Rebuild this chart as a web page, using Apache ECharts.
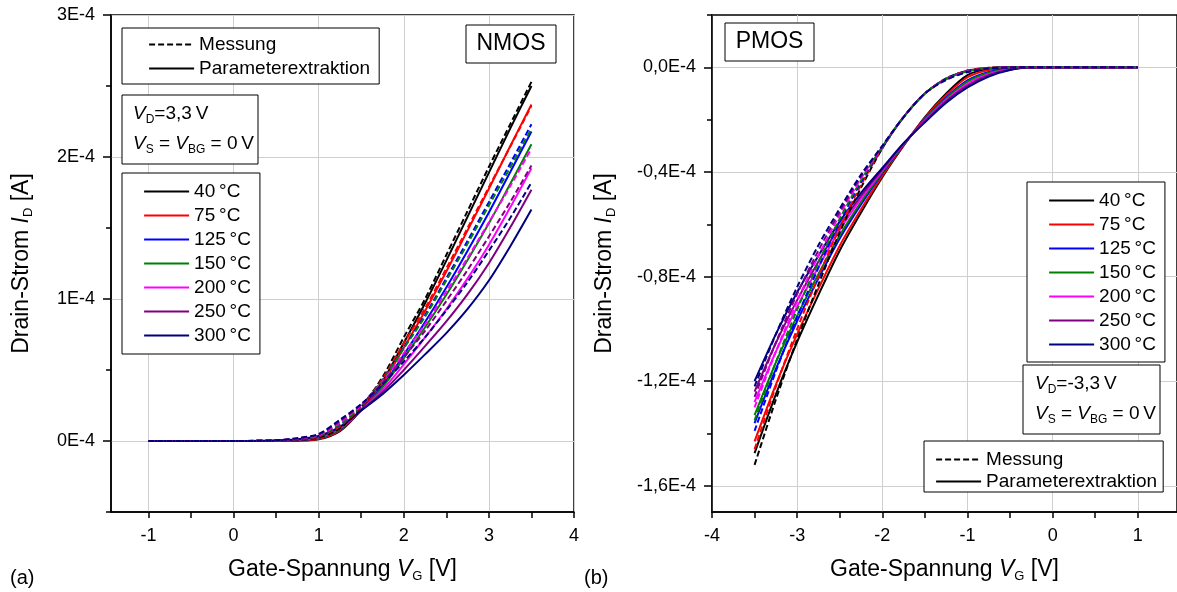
<!DOCTYPE html>
<html>
<head>
<meta charset="utf-8">
<script src="https://cdn.jsdelivr.net/npm/echarts@6/dist/echarts.min.js"></script>
<style>
  html, body { margin: 0; padding: 0; background: #fff; }
  #chart { width: 1177px; height: 592px; }
</style>
</head>
<body>
<div id="chart"></div>
<script>
// currents are given in units of 1E-4 A (axis labels carry the "E-4")
const temps = ['40\u2009°C', '75\u2009°C', '125\u2009°C', '150\u2009°C', '200\u2009°C', '250\u2009°C', '300\u2009°C'];
const tempColors = ['#000000', '#ff0000', '#0000ff', '#008000', '#ff00ff', '#800080', '#000080'];

// NMOS, V_D = 3,3 V
const nmosVg = [-1, -0.5, 0, 0.5, 0.75, 1.0, 1.25, 1.5, 1.75, 2.0, 2.25, 2.5, 2.75, 3.0, 3.25, 3.5];
const nmosModel = [
  [0, 0, 0, 0, 0.002, 0.012, 0.07, 0.22, 0.42, 0.69, 0.97, 1.27, 1.58, 1.89, 2.20, 2.50],
  [0, 0, 0, 0.001, 0.004, 0.015, 0.075, 0.219, 0.406, 0.656, 0.916, 1.194, 1.483, 1.776, 2.076, 2.37],
  [0, 0, 0, 0.001, 0.006, 0.021, 0.081, 0.218, 0.387, 0.607, 0.837, 1.081, 1.34, 1.609, 1.893, 2.18],
  [0, 0, 0, 0.001, 0.007, 0.023, 0.084, 0.218, 0.378, 0.584, 0.801, 1.03, 1.275, 1.533, 1.81, 2.09],
  [0, 0, 0, 0.002, 0.009, 0.027, 0.09, 0.217, 0.36, 0.539, 0.729, 0.928, 1.145, 1.381, 1.644, 1.92],
  [0, 0, 0, 0.0025, 0.010, 0.031, 0.095, 0.216, 0.344, 0.50, 0.668, 0.842, 1.034, 1.252, 1.503, 1.77],
  [0, 0, 0, 0.003, 0.012, 0.035, 0.10, 0.215, 0.33, 0.465, 0.61, 0.76, 0.93, 1.13, 1.37, 1.63]
];
const nmosMeas = [
  [0, 0, 0, 0.003, 0.008, 0.025, 0.09, 0.24, 0.45, 0.73, 1.00, 1.31, 1.62, 1.93, 2.23, 2.53],
  [0, 0, 0, 0.0035, 0.011, 0.031, 0.104, 0.245, 0.438, 0.689, 0.935, 1.216, 1.50, 1.788, 2.072, 2.36],
  [0, 0, 0, 0.004, 0.013, 0.036, 0.115, 0.248, 0.429, 0.659, 0.887, 1.146, 1.41, 1.682, 1.953, 2.23],
  [0, 0, 0, 0.004, 0.014, 0.037, 0.118, 0.249, 0.427, 0.652, 0.876, 1.131, 1.39, 1.659, 1.926, 2.20],
  [0, 0, 0, 0.004, 0.016, 0.042, 0.13, 0.253, 0.417, 0.618, 0.822, 1.053, 1.29, 1.54, 1.794, 2.06],
  [0, 0, 0, 0.005, 0.018, 0.046, 0.14, 0.257, 0.409, 0.589, 0.776, 0.986, 1.205, 1.44, 1.682, 1.94],
  [0, 0, 0, 0.005, 0.02, 0.05, 0.15, 0.26, 0.40, 0.56, 0.73, 0.92, 1.12, 1.34, 1.57, 1.82]
];

// PMOS, V_D = -3,3 V
const pmosVg = [-3.5, -3.25, -3, -2.75, -2.5, -2.25, -2, -1.75, -1.5, -1.25, -1, -0.75, -0.5, -0.25, 0, 0.5, 1];
const pmosModel = [
  [-1.475, -1.25, -1.05, -0.87, -0.70, -0.555, -0.42, -0.30, -0.19, -0.10, -0.03, -0.005, 0, 0, 0, 0, 0],
  [-1.43, -1.213, -1.02, -0.846, -0.682, -0.543, -0.414, -0.298, -0.193, -0.106, -0.038, -0.01, -0.002, 0, 0, 0, 0],
  [-1.36, -1.153, -0.97, -0.807, -0.654, -0.524, -0.405, -0.296, -0.198, -0.115, -0.05, -0.018, -0.004, 0, 0, 0, 0],
  [-1.33, -1.128, -0.95, -0.79, -0.642, -0.515, -0.401, -0.295, -0.20, -0.119, -0.055, -0.021, -0.005, 0, 0, 0, 0],
  [-1.28, -1.087, -0.915, -0.763, -0.622, -0.502, -0.395, -0.293, -0.204, -0.125, -0.063, -0.026, -0.007, 0, 0, 0, 0],
  [-1.24, -1.054, -0.89, -0.742, -0.607, -0.491, -0.39, -0.292, -0.207, -0.13, -0.07, -0.03, -0.009, 0, 0, 0, 0],
  [-1.20, -1.02, -0.86, -0.72, -0.59, -0.48, -0.385, -0.29, -0.21, -0.135, -0.077, -0.035, -0.01, -0.001, 0, 0, 0]
];
const pmosMeas = [
  [-1.52, -1.27, -1.04, -0.83, -0.63, -0.46, -0.31, -0.19, -0.10, -0.042, -0.012, -0.002, 0, 0, 0, 0, 0],
  [-1.46, -1.22, -1.00, -0.80, -0.612, -0.45, -0.308, -0.19, -0.10, -0.043, -0.013, -0.002, 0, 0, 0, 0, 0],
  [-1.39, -1.162, -0.954, -0.766, -0.591, -0.439, -0.306, -0.19, -0.10, -0.044, -0.014, -0.003, 0, 0, 0, 0, 0],
  [-1.35, -1.127, -0.926, -0.745, -0.579, -0.432, -0.304, -0.19, -0.10, -0.045, -0.015, -0.003, 0, 0, 0, 0, 0],
  [-1.30, -1.087, -0.894, -0.72, -0.564, -0.424, -0.303, -0.19, -0.10, -0.046, -0.016, -0.004, 0, 0, 0, 0, 0],
  [-1.26, -1.052, -0.866, -0.70, -0.552, -0.417, -0.301, -0.19, -0.10, -0.047, -0.017, -0.004, 0, 0, 0, 0, 0],
  [-1.22, -1.02, -0.84, -0.68, -0.54, -0.41, -0.30, -0.19, -0.10, -0.048, -0.018, -0.005, -0.001, 0, 0, 0, 0]
];

// tick positions
const nmosXTicks = [-1, 0, 1, 2, 3, 4];
const nmosXMinor = [-0.5, 0.5, 1.5, 2.5, 3.5];
const nmosYTicks = [0, 1, 2, 3];
const nmosYMinor = [-0.5, 0.5, 1.5, 2.5];
const pmosXTicks = [-4, -3, -2, -1, 0, 1];
const pmosXMinor = [-3.5, -2.5, -1.5, -0.5, 0.5];
const pmosYTicks = [-1.6, -1.2, -0.8, -0.4, 0];
const pmosYMinor = [-1.4, -1.0, -0.6, -0.2, 0.2];

const FONT = '"Liberation Sans", Arial, sans-serif';
const DASH = [6, 3];

const chart = echarts.init(document.getElementById('chart'), null, { renderer: 'canvas' });

function curve(name, xs, ys, color, dashed, idx) {
  return {
    name: name, type: 'line', xAxisIndex: idx, yAxisIndex: idx,
    data: xs.map((x, i) => [x, ys[i]]),
    smooth: 0.3, symbol: 'none', silent: true,
    lineStyle: { color: color, width: 2, type: dashed ? DASH : 'solid' },
    itemStyle: { color: color }
  };
}

const series = [];
temps.forEach((t, i) => {
  series.push(curve(t, nmosVg, nmosModel[i], tempColors[i], false, 0));
  series.push(curve(t, pmosVg, pmosModel[i], tempColors[i], false, 1));
});
temps.forEach((t, i) => {
  series.push(curve(t, nmosVg, nmosMeas[i], tempColors[i], true, 0));
  series.push(curve(t, pmosVg, pmosMeas[i], tempColors[i], true, 1));
});
// legend-only entries for line styles
series.push(curve('Messung', [], [], '#000', true, 0));
series.push(curve('Parameterextraktion', [], [], '#000', false, 0));

const richName = {
  t: { fontSize: 23, fontFamily: FONT, color: '#000' },
  i: { fontSize: 23, fontFamily: FONT, color: '#000', fontStyle: 'italic' },
  s: { fontSize: 13, fontFamily: FONT, color: '#000', padding: [14, 0, 0, 0] }
};

function mainX(grid, min, max, ticks) {
  return {
    gridIndex: grid, type: 'value', min: min, max: max, position: 'bottom',
    axisLine: { onZero: false, lineStyle: { color: '#000', width: 1.5 } },
    axisTick: { customValues: ticks, length: 6, lineStyle: { color: '#000', width: 1.5 } },
    axisLabel: { customValues: ticks, color: '#000', fontSize: 18, fontFamily: FONT, margin: 15 },
    splitLine: { show: true, lineStyle: { color: '#cfcfcf', width: 1 } },
    name: '{t|Gate-Spannung }{i|V}{s|G}{t| [V]}',
    nameLocation: 'middle', nameGap: 44,
    nameTextStyle: { rich: richName }
  };
}
function minorAxis(grid, min, max, ticks, len, pos) {
  return {
    gridIndex: grid, type: 'value', min: min, max: max, position: pos,
    axisLine: { show: false, onZero: false },
    axisTick: { customValues: ticks, length: len, lineStyle: { color: '#000', width: 1.5 } },
    axisLabel: { show: false },
    splitLine: { show: false }
  };
}
function mainY(grid, min, max, ticks, fmt, gap) {
  return {
    gridIndex: grid, type: 'value', min: min, max: max, position: 'left',
    axisLine: { onZero: false, lineStyle: { color: '#000', width: 1.5 } },
    axisTick: { customValues: ticks, length: 8, lineStyle: { color: '#000', width: 1.5 } },
    axisLabel: { customValues: ticks, formatter: fmt, color: '#000', fontSize: 18, fontFamily: FONT, margin: 16 },
    splitLine: { show: true, lineStyle: { color: '#cfcfcf', width: 1 } },
    name: '{t|Drain-Strom }{i|I}{s|D}{t| [A]}',
    nameLocation: 'middle', nameGap: gap,
    nameTextStyle: { rich: richName }
  };
}

function legendBox(left, top, names, padding, gap) {
  return {
    left: left, top: top, orient: 'vertical', data: names,
    itemWidth: 45, itemHeight: 2, itemGap: gap, padding: padding,
    borderColor: '#000', borderWidth: 1, backgroundColor: '#fff',
    selectedMode: false,
    itemStyle: { opacity: 0 },
    lineStyle: { width: 2.2 },
    textStyle: { fontSize: 19, fontFamily: FONT, color: '#000' }
  };
}

function textBox(x, y, w, h) {
  return { type: 'rect', shape: { x: x, y: y, width: w, height: h }, z: 50,
    style: { fill: '#fff', stroke: '#000', lineWidth: 1 } };
}
const richBox = {
  t: { fontSize: 19, fontFamily: FONT, color: '#000' },
  i: { fontSize: 19, fontFamily: FONT, color: '#000', fontStyle: 'italic' },
  s: { fontSize: 12, fontFamily: FONT, color: '#000', padding: [11, 0, 0, 0] }
};
function richText(x, y, text) {
  return { type: 'text', x: x, y: y, z: 51,
    style: { text: text, rich: richBox, verticalAlign: 'middle', align: 'left' } };
}
function plainText(x, y, text, size, align) {
  return { type: 'text', x: x, y: y, z: 51,
    style: { text: text, fontSize: size, fontFamily: FONT, fill: '#000', verticalAlign: 'middle', align: align || 'left' } };
}

const option = {
  animation: false,
  textStyle: { fontFamily: FONT },
  grid: [
    { left: 111, top: 15, width: 463, height: 497, show: true, borderColor: '#000', borderWidth: 1.5, backgroundColor: 'transparent' },
    { left: 712, top: 15, width: 465, height: 497, show: true, borderColor: '#000', borderWidth: 1.5, backgroundColor: 'transparent' }
  ],
  xAxis: [
    mainX(0, -1.44, 4, nmosXTicks),
    mainX(1, -4, 1.46, pmosXTicks),
    minorAxis(0, -1.44, 4, nmosXMinor, 6, 'bottom'),
    minorAxis(1, -4, 1.46, pmosXMinor, 6, 'bottom')
  ],
  yAxis: [
    mainY(0, -0.5, 3, nmosYTicks, v => v + 'E-4', 76),
    mainY(1, -1.7, 0.2, pmosYTicks, v => v.toFixed(1).replace('.', ',') + 'E-4', 94),
    minorAxis(0, -0.5, 3, nmosYMinor, 5, 'left'),
    minorAxis(1, -1.7, 0.2, pmosYMinor, 5, 'left')
  ],
  legend: [
    legendBox(122, 173, temps, [9, 9, 9, 21], 5),
    legendBox(122, 28, ['Messung', 'Parameterextraktion'], [7, 9, 6, 26], 5),
    legendBox(1027, 182, temps, [9, 9, 8, 21], 5),
    legendBox(924, 441, ['Messung', 'Parameterextraktion'], [9, 6, 1, 11], 3)
  ],
  graphic: [
    textBox(466, 25, 90, 38), plainText(511, 44, 'NMOS', 23, 'center'),
    textBox(725, 23, 89, 38), plainText(769.5, 42, 'PMOS', 23, 'center'),
    textBox(122, 95, 136, 69),
    richText(133, 114, '{i|V}{s|D}{t|=3,3\u2009V}'),
    richText(133, 144, '{i|V}{s|S}{t| = }{i|V}{s|BG}{t| = 0\u2009V}'),
    textBox(1023, 365, 137, 69),
    richText(1035, 384, '{i|V}{s|D}{t|=-3,3\u2009V}'),
    richText(1035, 414, '{i|V}{s|S}{t| = }{i|V}{s|BG}{t| = 0\u2009V}'),
    plainText(10, 578, '(a)', 20),
    plainText(584, 578, '(b)', 20)
  ],
  series: series
};

chart.setOption(option);
</script>
</body>
</html>
